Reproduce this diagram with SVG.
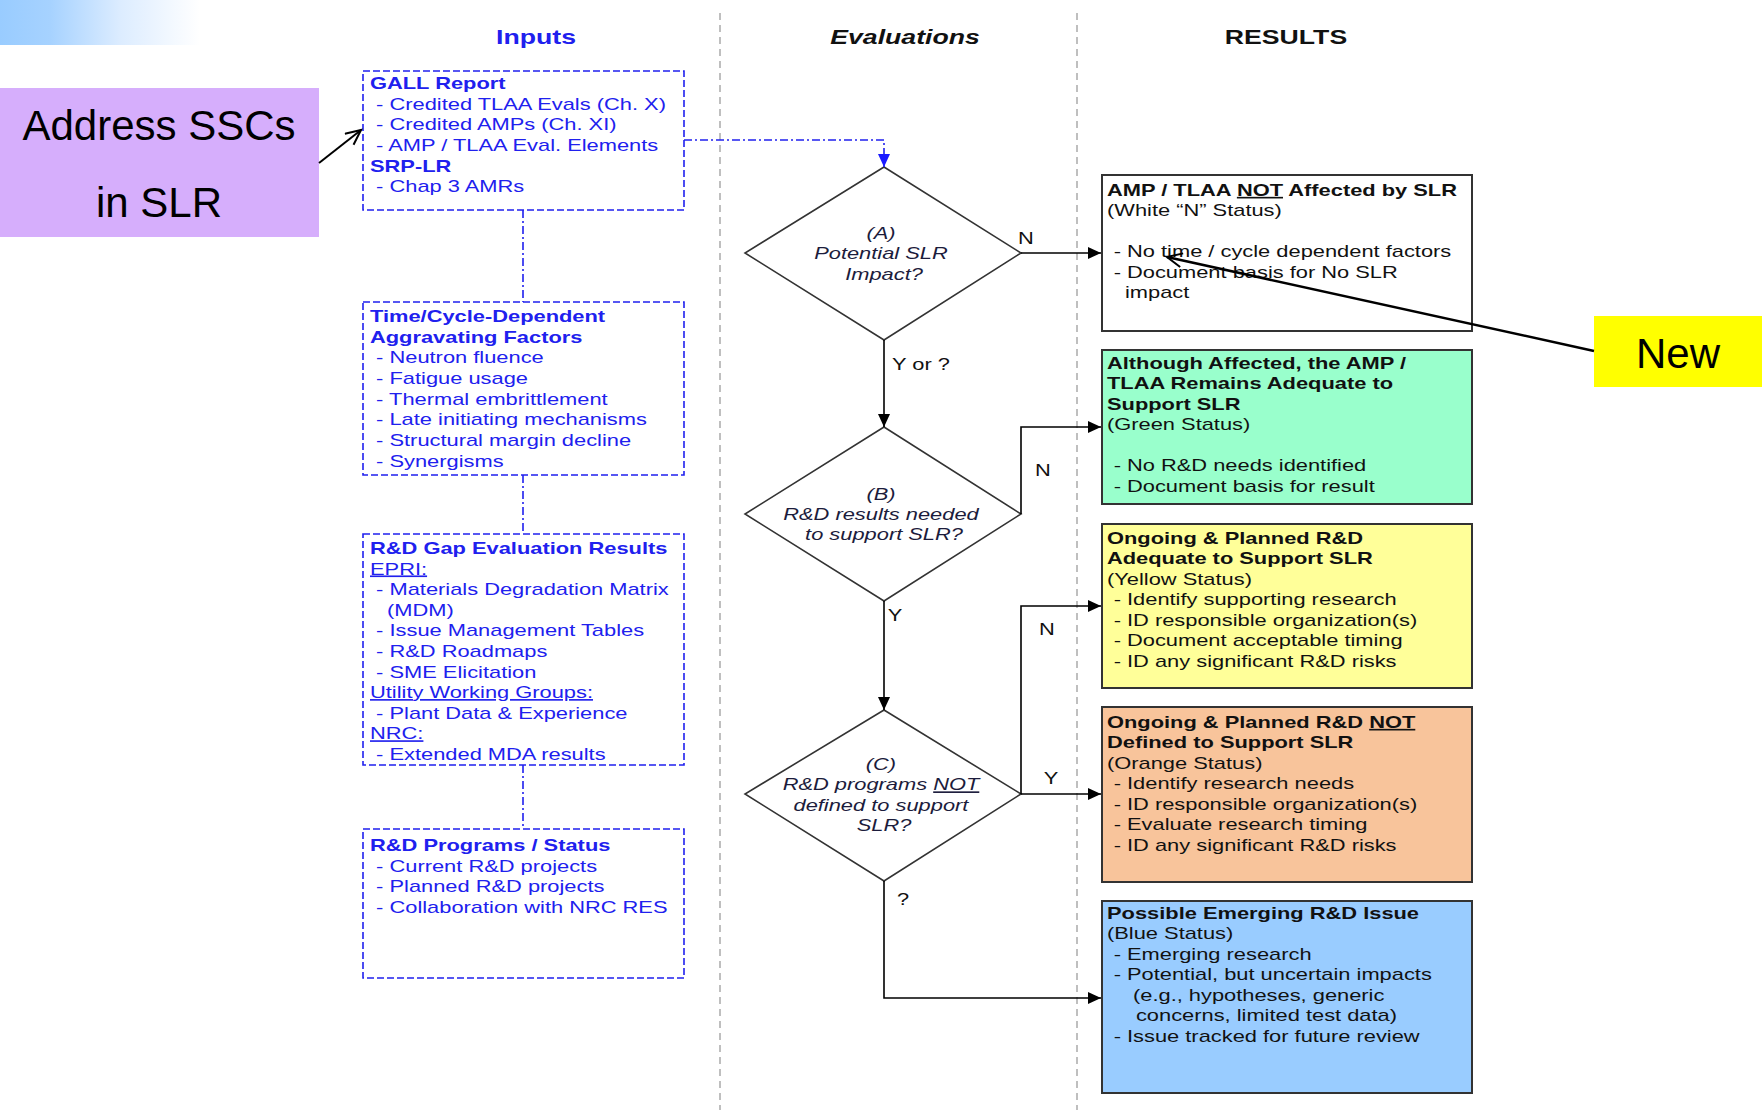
<svg xmlns="http://www.w3.org/2000/svg" width="1762" height="1110" viewBox="0 0 1762 1110">
<defs>
<linearGradient id="bannerGrad" x1="0" y1="0" x2="1" y2="0">
<stop offset="0" stop-color="#99ccff"/>
<stop offset="0.25" stop-color="#a6d2ff"/>
<stop offset="0.6" stop-color="#dcecff"/>
<stop offset="1" stop-color="#ffffff"/>
</linearGradient>
<marker id="arrBlack" markerUnits="userSpaceOnUse" markerWidth="14" markerHeight="12" refX="13" refY="6" orient="auto">
<path d="M0,0 L13,6 L0,12 z" fill="#000"/>
</marker>
<marker id="arrBlue" markerUnits="userSpaceOnUse" markerWidth="14" markerHeight="12" refX="13" refY="6" orient="auto">
<path d="M0,0 L13,6 L0,12 z" fill="#1a1aff"/>
</marker>
<marker id="arrOpen" markerUnits="userSpaceOnUse" markerWidth="20" markerHeight="20" refX="16" refY="8" orient="auto">
<path d="M1,1 L16,8 L1,15" fill="none" stroke="#000" stroke-width="2"/>
</marker>
</defs>
<style>
.t{font-family:"Liberation Sans",Arial,sans-serif;font-size:16.4px}
.in{fill:#2020ee}
.b{font-weight:bold}
.dk{fill:#111}
.dt{fill:#1c1c3c;font-style:italic}
.hdr{font-family:"Liberation Sans",Arial,sans-serif;font-size:20px;font-weight:bold}
.inbox{fill:#fff;stroke:#2020ee;stroke-width:1.6;stroke-dasharray:7 3}
.dia{fill:#fff;stroke:#333;stroke-width:1.6}
.res{stroke:#333;stroke-width:2}
.conn{fill:none;stroke:#000;stroke-width:1.6}
.bconn{fill:none;stroke:#2020ee;stroke-width:1.6;stroke-dasharray:8 3 2 3}
.div{stroke:#aaa;stroke-width:1.5;stroke-dasharray:7 5}
.u{text-decoration:underline}
</style>
<rect x="0" y="0" width="1762" height="1110" fill="#fff"/>
<rect x="0" y="0" width="200" height="45" fill="url(#bannerGrad)"/>

<g id="dividers">
<line class="div" x1="720" y1="13" x2="720" y2="1110"/>
<line class="div" x1="1077" y1="13" x2="1077" y2="1110"/>
</g>

<g id="headers">
<g transform="translate(536 0) scale(1.333 1)"><text class="hdr" x="0" y="44" text-anchor="middle" fill="#2020ee">Inputs</text></g>
<g transform="translate(905 0) scale(1.333 1)"><text class="hdr" x="0" y="44" text-anchor="middle" font-style="italic" fill="#111">Evaluations</text></g>
<g transform="translate(1286 0) scale(1.333 1)"><text class="hdr" x="0" y="44" text-anchor="middle" fill="#111">RESULTS</text></g>
</g>

<g id="address">
<rect x="0" y="88" width="319" height="149" fill="#d6aefc"/>
<text x="159" y="140" text-anchor="middle" font-family="Liberation Sans, Arial, sans-serif" font-size="42" fill="#000">Address SSCs</text>
<text x="159" y="217" text-anchor="middle" font-family="Liberation Sans, Arial, sans-serif" font-size="42" fill="#000">in SLR</text>
</g>

<g id="new">
<rect x="1594" y="316" width="168" height="71" fill="#ffff00"/>
<text x="1636" y="368" font-family="Liberation Sans, Arial, sans-serif" font-size="42" fill="#000">New</text>
</g>

<g id="gall">
<rect class="inbox" x="363" y="71" width="321" height="139"/>
<g transform="translate(370 0) scale(1.333 1)">
<text class="t in">
<tspan class="b" x="0" y="89">GALL Report</tspan>
<tspan x="4.6" y="109.7">- Credited TLAA Evals (Ch. X)</tspan>
<tspan x="4.6" y="130.4">- Credited AMPs (Ch. XI)</tspan>
<tspan x="4.6" y="151">- AMP / TLAA Eval. Elements</tspan>
<tspan class="b" x="0" y="171.8">SRP-LR</tspan>
<tspan x="4.6" y="192.5">- Chap 3 AMRs</tspan>
</text>
</g>
</g>

<g id="timecycle">
<rect class="inbox" x="363" y="302" width="321" height="173"/>
<g transform="translate(370 0) scale(1.333 1)">
<text class="t in">
<tspan class="b" x="0" y="322">Time/Cycle-Dependent</tspan>
<tspan class="b" x="0" y="342.7">Aggravating Factors</tspan>
<tspan x="4.6" y="363.4">- Neutron fluence</tspan>
<tspan x="4.6" y="384.1">- Fatigue usage</tspan>
<tspan x="4.6" y="404.8">- Thermal embrittlement</tspan>
<tspan x="4.6" y="425.5">- Late initiating mechanisms</tspan>
<tspan x="4.6" y="446.2">- Structural margin decline</tspan>
<tspan x="4.6" y="466.9">- Synergisms</tspan>
</text>
</g>
</g>

<g id="gap">
<rect class="inbox" x="363" y="534" width="321" height="231"/>
<g transform="translate(370 0) scale(1.333 1)">
<text class="t in">
<tspan class="b" x="0" y="554">R&amp;D Gap Evaluation Results</tspan>
<tspan class="u" x="0" y="574.6">EPRI:</tspan>
<tspan x="4.6" y="595.2">- Materials Degradation Matrix</tspan>
<tspan x="12.8" y="615.8">(MDM)</tspan>
<tspan x="4.6" y="636.4">- Issue Management Tables</tspan>
<tspan x="4.6" y="657">- R&amp;D Roadmaps</tspan>
<tspan x="4.6" y="677.6">- SME Elicitation</tspan>
<tspan class="u" x="0" y="698.2">Utility Working Groups:</tspan>
<tspan x="4.6" y="718.8">- Plant Data &amp; Experience</tspan>
<tspan class="u" x="0" y="739.4">NRC:</tspan>
<tspan x="4.6" y="760">- Extended MDA results</tspan>
</text>
</g>
</g>

<g id="programs">
<rect class="inbox" x="363" y="829" width="321" height="149"/>
<g transform="translate(370 0) scale(1.333 1)">
<text class="t in">
<tspan class="b" x="0" y="851">R&amp;D Programs / Status</tspan>
<tspan x="4.6" y="871.6">- Current R&amp;D projects</tspan>
<tspan x="4.6" y="892.2">- Planned R&amp;D projects</tspan>
<tspan x="4.6" y="912.8">- Collaboration with NRC RES</tspan>
</text>
</g>
</g>

<g id="diamondA">
<polygon class="dia" points="884,167 1021,253 884,340 745,253"/>
<g transform="translate(884 0) scale(1.333 1)">
<text class="t dt" text-anchor="middle">
<tspan x="0" y="239">(A)</tspan>
<tspan x="0" y="259.5">Potential SLR</tspan>
<tspan x="0" y="280">Impact?</tspan>
</text>
</g>
</g>

<g id="diamondB">
<polygon class="dia" points="884,427 1021,514 884,601 745,514"/>
<g transform="translate(884 0) scale(1.333 1)">
<text class="t dt" text-anchor="middle">
<tspan x="0" y="500">(B)</tspan>
<tspan x="0" y="520">R&amp;D results needed</tspan>
<tspan x="0" y="540">to support SLR?</tspan>
</text>
</g>
</g>

<g id="diamondC">
<polygon class="dia" points="884,710 1021,794 884,881 745,794"/>
<g transform="translate(884 0) scale(1.333 1)">
<text class="t dt" text-anchor="middle">
<tspan x="0" y="770">(C)</tspan>
<tspan x="0" y="790.5">R&amp;D programs <tspan class="u">NOT</tspan></tspan>
<tspan x="0" y="811">defined to support</tspan>
<tspan x="0" y="831">SLR?</tspan>
</text>
</g>
</g>

<g id="resWhite">
<rect class="res" x="1102" y="175" width="370" height="156" fill="#fff"/>
<g transform="translate(1107 0) scale(1.333 1)">
<text class="t dk">
<tspan class="b" x="0" y="196">AMP / TLAA <tspan class="u">NOT</tspan> Affected by SLR</tspan>
<tspan x="0" y="216.5">(White “N” Status)</tspan>
<tspan x="5" y="257.5">- No time / cycle dependent factors</tspan>
<tspan x="5" y="278">- Document basis for No SLR</tspan>
<tspan x="13.5" y="298.5">impact</tspan>
</text>
</g>
</g>

<g id="resGreen">
<rect class="res" x="1102" y="350" width="370" height="154" fill="#99ffcc"/>
<g transform="translate(1107 0) scale(1.333 1)">
<text class="t dk">
<tspan class="b" x="0" y="369">Although Affected, the AMP /</tspan>
<tspan class="b" x="0" y="389.5">TLAA Remains Adequate to</tspan>
<tspan class="b" x="0" y="410">Support SLR</tspan>
<tspan x="0" y="430.5">(Green Status)</tspan>
<tspan x="5" y="471.5">- No R&amp;D needs identified</tspan>
<tspan x="5" y="492">- Document basis for result</tspan>
</text>
</g>
</g>

<g id="resYellow">
<rect class="res" x="1102" y="524" width="370" height="164" fill="#ffff99"/>
<g transform="translate(1107 0) scale(1.333 1)">
<text class="t dk">
<tspan class="b" x="0" y="544">Ongoing &amp; Planned R&amp;D</tspan>
<tspan class="b" x="0" y="564.5">Adequate to Support SLR</tspan>
<tspan x="0" y="585">(Yellow Status)</tspan>
<tspan x="5" y="605.5">- Identify supporting research</tspan>
<tspan x="5" y="626">- ID responsible organization(s)</tspan>
<tspan x="5" y="646.5">- Document acceptable timing</tspan>
<tspan x="5" y="667">- ID any significant R&amp;D risks</tspan>
</text>
</g>
</g>

<g id="resOrange">
<rect class="res" x="1102" y="707" width="370" height="175" fill="#f8c49b"/>
<g transform="translate(1107 0) scale(1.333 1)">
<text class="t dk">
<tspan class="b" x="0" y="728">Ongoing &amp; Planned R&amp;D <tspan class="u">NOT</tspan></tspan>
<tspan class="b" x="0" y="748.5">Defined to Support SLR</tspan>
<tspan x="0" y="769">(Orange Status)</tspan>
<tspan x="5" y="789.5">- Identify research needs</tspan>
<tspan x="5" y="810">- ID responsible organization(s)</tspan>
<tspan x="5" y="830.5">- Evaluate research timing</tspan>
<tspan x="5" y="851">- ID any significant R&amp;D risks</tspan>
</text>
</g>
</g>

<g id="resBlue">
<rect class="res" x="1102" y="901" width="370" height="192" fill="#99ccff"/>
<g transform="translate(1107 0) scale(1.333 1)">
<text class="t dk">
<tspan class="b" x="0" y="919">Possible Emerging R&amp;D Issue</tspan>
<tspan x="0" y="939.5">(Blue Status)</tspan>
<tspan x="5" y="960">- Emerging research</tspan>
<tspan x="5" y="980.5">- Potential, but uncertain impacts</tspan>
<tspan x="19.5" y="1001">(e.g., hypotheses, generic</tspan>
<tspan x="21.7" y="1021.5">concerns, limited test data)</tspan>
<tspan x="5" y="1042">- Issue tracked for future review</tspan>
</text>
</g>
</g>

<g id="connectors">
<line class="bconn" x1="523" y1="210" x2="523" y2="302"/>
<line class="bconn" x1="523" y1="475" x2="523" y2="534"/>
<line class="bconn" x1="523" y1="765" x2="523" y2="829"/>
<polyline class="bconn" points="684,140 884,140 884,167" marker-end="url(#arrBlue)"/>
<line class="conn" x1="1021" y1="253" x2="1101" y2="253" marker-end="url(#arrBlack)"/>
<line class="conn" x1="884" y1="340" x2="884" y2="427" marker-end="url(#arrBlack)"/>
<polyline class="conn" points="1021,514 1021,427 1101,427" marker-end="url(#arrBlack)"/>
<line class="conn" x1="884" y1="601" x2="884" y2="710" marker-end="url(#arrBlack)"/>
<polyline class="conn" points="1021,794 1021,606 1101,606" marker-end="url(#arrBlack)"/>
<line class="conn" x1="1021" y1="794" x2="1101" y2="794" marker-end="url(#arrBlack)"/>
<polyline class="conn" points="884,881 884,998 1101,998" marker-end="url(#arrBlack)"/>
<line x1="319" y1="163" x2="361" y2="130" stroke="#000" stroke-width="2" marker-end="url(#arrOpen)"/>
<line x1="1594" y1="351" x2="1167" y2="257" stroke="#000" stroke-width="2.5" marker-end="url(#arrOpen)"/>
<g transform="translate(1026 0) scale(1.333 1)"><text class="t dk" x="0" y="244" text-anchor="middle">N</text></g>
<g transform="translate(892 0) scale(1.333 1)"><text class="t dk" x="0" y="370">Y or ?</text></g>
<g transform="translate(1043 0) scale(1.333 1)"><text class="t dk" x="0" y="476" text-anchor="middle">N</text></g>
<g transform="translate(895 0) scale(1.333 1)"><text class="t dk" x="0" y="621" text-anchor="middle">Y</text></g>
<g transform="translate(1047 0) scale(1.333 1)"><text class="t dk" x="0" y="635" text-anchor="middle">N</text></g>
<g transform="translate(1051 0) scale(1.333 1)"><text class="t dk" x="0" y="784" text-anchor="middle">Y</text></g>
<g transform="translate(903 0) scale(1.333 1)"><text class="t dk" x="0" y="905" text-anchor="middle">?</text></g>
</g>
</svg>
